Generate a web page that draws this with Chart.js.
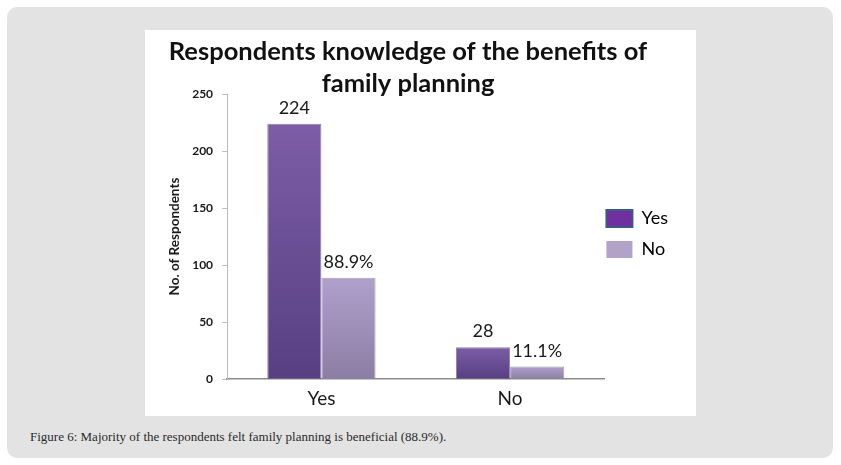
<!DOCTYPE html>
<html>
<head>
<meta charset="utf-8">
<script src="https://cdn.jsdelivr.net/npm/chart.js@4/dist/chart.umd.min.js"></script>
<style>
  body { margin: 0; background: #fff; width: 841px; height: 465px; position: relative; overflow: hidden; }
  .panel { position: absolute; left: 7px; top: 7px; width: 826px; height: 451px; background: #e3e3e3; border-radius: 10px; }
  .chart-box { position: absolute; left: 145px; top: 30px; width: 551px; height: 386px; background: #fff; }
  .caption { position: absolute; left: 30px; top: 430px; font: 13px "Liberation Serif", serif; color: #2a2a2a; white-space: nowrap; line-height: 1; }
</style>
</head>
<body>
<div class="panel"></div>
<div class="chart-box"><canvas id="knowledgeChart"></canvas></div>
<div class="caption">Figure 6: Majority of the respondents felt family planning is beneficial (88.9%).</div>

<script>
// Chart data
const categories = ['Yes', 'No'];
const yesValues = [224, 28];
const noValues = [88.9, 11.1];
const yesLabels = ['224', '28'];
const noLabels = ['88.9%', '11.1%'];
const yTicks = [0, 50, 100, 150, 200, 250];

// vertical gradient per bar, from its top to the baseline
function barFill(topColor, bottomColor) {
  return function (c) {
    const chart = c.chart;
    if (!chart.chartArea || c.raw === undefined) return topColor;
    const y = chart.scales.y;
    const top = y.getPixelForValue(c.raw);
    const bottom = y.getPixelForValue(0);
    if (!(bottom > top)) return topColor;
    const g = chart.ctx.createLinearGradient(0, top, 0, bottom);
    g.addColorStop(0, topColor);
    g.addColorStop(1, bottomColor);
    return g;
  };
}

// value labels above the bars
const valueLabels = {
  id: 'valueLabels',
  afterDatasetsDraw(chart) {
    const ctx = chart.ctx;
    const texts = [yesLabels, noLabels];
    ctx.save();
    ctx.font = '18px Lato';
    ctx.fillStyle = '#1a1a1a';
    ctx.textAlign = 'center';
    ctx.textBaseline = 'alphabetic';
    chart.data.datasets.forEach((ds, i) => {
      chart.getDatasetMeta(i).data.forEach((bar, j) => {
        ctx.fillText(texts[i][j], bar.x, bar.y - 10);
      });
    });
    ctx.restore();
  }
};

// small position tweaks: legend a bit left and lower, title a bit left
const layoutTweaks = {
  id: 'layoutTweaks',
  afterLayout(chart) {
    chart.legend.left -= 11;
    chart.legend.right -= 11;
    chart.legend.top += 14;
    chart.legend.bottom += 14;
    chart.titleBlock.left -= 9;
    chart.titleBlock.right -= 9;
  }
};

const ctx = document.getElementById('knowledgeChart').getContext('2d');
new Chart(ctx, {
  type: 'bar',
  data: {
    labels: categories,
    datasets: [{
      label: 'Yes',
      data: yesValues,
      backgroundColor: barFill('#7c5da6', '#573f82'),
      borderColor: 'rgba(70, 50, 110, 0.6)',
      borderWidth: 1
    }, {
      label: 'No',
      data: noValues,
      backgroundColor: barFill('#afa0cc', '#8b7ea3'),
      borderColor: 'rgba(110, 95, 140, 0.6)',
      borderWidth: 1
    }]
  },
  options: {
    responsive: true,
    maintainAspectRatio: false,
    animation: false,
    layout: { padding: { left: 0, right: 7, top: 0, bottom: 6 } },
    datasets: { bar: { barPercentage: 1, categoryPercentage: 0.574 } },
    scales: {
      x: {
        grid: { display: false },
        border: { display: true, color: '#8a8a8a', width: 1.5 },
        ticks: { color: '#1a1a1a', font: { family: 'Lato', size: 19 }, padding: 0 }
      },
      y: {
        min: 0,
        max: 250,
        afterBuildTicks(scale) { scale.ticks = yTicks.map(v => ({ value: v })); },
        grid: { display: true, drawOnChartArea: false, drawTicks: true, tickLength: 5, color: '#bdbdbd' },
        border: { display: true, color: '#bdbdbd', width: 1 },
        ticks: { color: '#1a1a1a', font: { family: 'Lato', size: 12, weight: 'bold' }, padding: 9 },
        title: {
          display: true,
          text: 'No. of Respondents',
          color: '#1a1a1a',
          font: { family: 'Lato', size: 13.5, weight: 'bold' },
          padding: { top: 22, bottom: 0 }
        }
      }
    },
    plugins: {
      title: {
        display: true,
        text: ['Respondents knowledge of the benefits of', 'family planning'],
        color: '#111',
        font: { family: 'Lato', size: 25.5, weight: 'bold', lineHeight: 1.255 },
        padding: { top: 6, bottom: -6 }
      },
      legend: {
        position: 'right',
        labels: {
          color: '#1a1a1a',
          font: { family: 'Lato', size: 18 },
          boxWidth: 26,
          boxHeight: 17,
          padding: 13,
          generateLabels() {
            return [
              { text: 'Yes', fillStyle: '#7030a0', strokeStyle: '#3b5a8a', lineWidth: 2, datasetIndex: 0 },
              { text: 'No', fillStyle: '#b3a2c7', strokeStyle: '#b3a2c7', lineWidth: 0, datasetIndex: 1 }
            ];
          }
        }
      },
      tooltip: { enabled: false }
    }
  },
  plugins: [valueLabels, layoutTweaks]
});
</script>
</body>
</html>
